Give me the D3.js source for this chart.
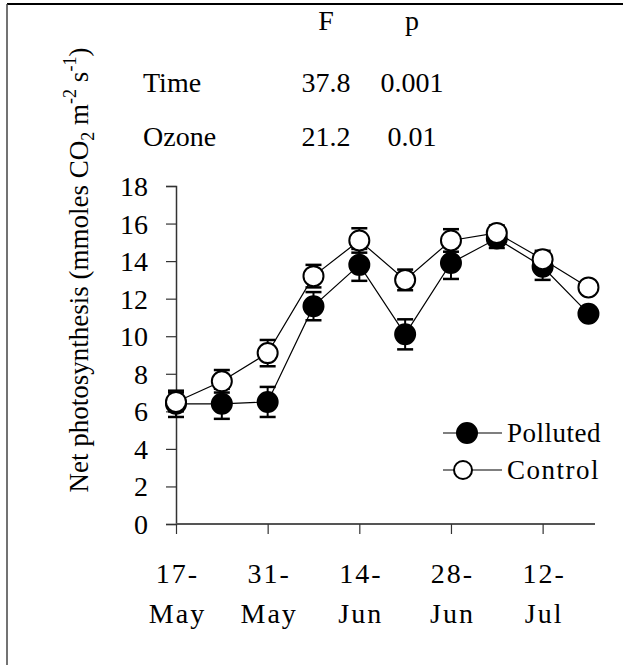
<!DOCTYPE html>
<html>
<head>
<meta charset="utf-8">
<script src="https://cdn.jsdelivr.net/npm/d3@7/dist/d3.min.js"></script>
<style>
  body { margin: 0; background: #fff; }
  svg { display: block; }
  svg text { font-family: "Liberation Serif", "Times New Roman", Times, Tinos, "DejaVu Serif", "Noto Serif", serif !important; fill: #000; }
</style>
</head>
<body>
<div id="chart"></div>
<script>
// sampling dates (weekly)
const dates = ["2000-05-17", "2000-05-24", "2000-05-31", "2000-06-07", "2000-06-14",
               "2000-06-21", "2000-06-28", "2000-07-05", "2000-07-12", "2000-07-19"]
const polluted = [6.4, 6.4, 6.5, 11.6, 13.8, 10.1, 13.9, 15.2, 13.7, 11.2]
const pollutedErr = [0.7, 0.8, 0.8, 0.75, 0.85, 0.8, 0.85, 0.5, 0.7, 0.3]
const control = [6.5, 7.6, 9.1, 13.2, 15.1, 13.0, 15.1, 15.5, 14.1, 12.6]
const controlErr = [0.5, 0.6, 0.7, 0.6, 0.65, 0.55, 0.6, 0.4, 0.45, 0.2]

const xTickDates = ["2000-05-17", "2000-05-31", "2000-06-14", "2000-06-28", "2000-07-12"]
const xTickLabels = [["17-", "May"], ["31-", "May"], ["14-", "Jun"], ["28-", "Jun"], ["12-", "Jul"]]
const yTicks = [0, 2, 4, 6, 8, 10, 12, 14, 16, 18]

const statHeader = ["F", "p"]
const statRows = ["Time", "Ozone"]
const statF = ["37.8", "21.2"]
const statP = ["0.001", "0.01"]

const seriesNames = ["Polluted", "Control"]

const parse = d3.utcParse("%Y-%m-%d")
const width = 623, height = 665
const serif = '"Liberation Serif", "Times New Roman", Times, Tinos, "DejaVu Serif", serif'

const svg = d3.select("#chart").append("svg")
  .attr("width", width)
  .attr("height", height)
  .attr("font-family", serif)

// frame (top + left edges as in the scan)
svg.append("line").attr("x1", 7).attr("x2", width).attr("y1", 4).attr("y2", 4)
  .attr("stroke", "#000").attr("stroke-width", 2)
svg.append("line").attr("x1", 7).attr("x2", 7).attr("y1", 4).attr("y2", height)
  .attr("stroke", "#444").attr("stroke-width", 1.5)

const x = d3.scaleUtc()
  .domain([parse("2000-05-17"), parse("2000-07-20")])
  .range([176, 595])
const y = d3.scaleLinear()
  .domain([0, 18])
  .range([524, 186])

// stats table
const fCol = 326, pCol = 412
svg.selectAll(".hdr")
  .data(statHeader)
  .join("text")
  .attr("class", "hdr")
  .attr("x", (d, i) => i === 0 ? fCol : pCol)
  .attr("y", 30)
  .attr("text-anchor", "middle")
  .style("font-size", "28px")
  .text((d) => d)
statRows.forEach((r, i) => {
  const yy = 92 + i * 54
  svg.append("text").attr("x", 143).attr("y", yy).style("font-size", "28px").text(r)
  svg.append("text").attr("x", fCol).attr("y", yy).attr("text-anchor", "middle").style("font-size", "28px").text(statF[i])
  svg.append("text").attr("x", pCol).attr("y", yy).attr("text-anchor", "middle").style("font-size", "28px").text(statP[i])
})

// y axis
const yAxis = svg.append("g")
  .attr("transform", "translate(176,0)")
  .call(d3.axisLeft(y).tickValues(yTicks).tickSize(10).tickPadding(18))
yAxis.attr("font-family", serif)
yAxis.select(".domain").attr("stroke", "#333").attr("stroke-width", 1.5)
yAxis.selectAll(".tick line").attr("stroke", "#333").attr("stroke-width", 1.2)
yAxis.selectAll(".tick text")
  .style("font-size", "28px")
  .attr("fill", "#000")
  .attr("dy", "0.34em")

// x axis
const xAxis = svg.append("g")
  .attr("transform", `translate(0,${y(0)})`)
  .call(d3.axisBottom(x).tickValues(xTickDates.map(parse)).tickSize(10).tickFormat(""))
xAxis.attr("font-family", serif)
xAxis.select(".domain").attr("stroke", "#555").attr("stroke-width", 2)
  .attr("d", `M${x.range()[0]},0H${x.range()[1]}`)
xAxis.selectAll(".tick line").attr("stroke", "#333").attr("stroke-width", 1.2)
xAxis.selectAll(".tick").each(function(d, i) {
  const t = d3.select(this).append("text")
    .attr("text-anchor", "middle")
    .style("font-size", "28px")
    .style("letter-spacing", "2px")
    .attr("fill", "#000")
  t.selectAll("tspan")
    .data(xTickLabels[i])
    .join("tspan")
    .attr("x", 1)
    .attr("y", (d, di) => 59 + di * 40)
    .text((d) => d)
})

// y label
const yLab = svg.append("text")
  .attr("transform", "translate(88,270) rotate(-90)")
  .attr("text-anchor", "middle")
  .style("font-size", "27px")
yLab.append("tspan").text("Net photosynthesis (mmoles CO")
yLab.append("tspan").attr("dy", 6).style("font-size", "18px").text("2")
yLab.append("tspan").attr("dy", -6).text(" m")
yLab.append("tspan").attr("dy", -12).style("font-size", "18px").text("-2")
yLab.append("tspan").attr("dy", 12).text(" s")
yLab.append("tspan").attr("dy", -12).style("font-size", "18px").text("-1")
yLab.append("tspan").attr("dy", 12).text(")")

// series
const series = [
  {name: seriesNames[0], values: polluted, err: pollutedErr, fill: "#000"},
  {name: seriesNames[1], values: control, err: controlErr, fill: "#fff"}
]
const line = d3.line().x((d) => x(d.date)).y((d) => y(d.v))
const r = 10, cap = 8

series.forEach((s) => {
  const pts = s.values.map((v, i) => ({date: parse(dates[i]), v: v, e: s.err[i]}))
  const g = svg.append("g")
  g.append("path").datum(pts).attr("d", line)
    .attr("fill", "none").attr("stroke", "#000").attr("stroke-width", 1.2)
  const eb = g.selectAll(".eb").data(pts).join("g").attr("class", "eb")
  eb.append("line")
    .attr("x1", (d) => x(d.date)).attr("x2", (d) => x(d.date))
    .attr("y1", (d) => y(d.v - d.e)).attr("y2", (d) => y(d.v + d.e))
    .attr("stroke", "#000").attr("stroke-width", 2)
  ;[-1, 1].forEach((sgn) => {
    eb.append("line")
      .attr("x1", (d) => x(d.date) - cap).attr("x2", (d) => x(d.date) + cap)
      .attr("y1", (d) => y(d.v + sgn * d.e)).attr("y2", (d) => y(d.v + sgn * d.e))
      .attr("stroke", "#000").attr("stroke-width", 2.5)
  })
  g.selectAll("circle").data(pts).join("circle")
    .attr("cx", (d) => x(d.date)).attr("cy", (d) => y(d.v)).attr("r", r)
    .attr("fill", s.fill).attr("stroke", "#000").attr("stroke-width", 2)
})

// legend
const legend = svg.append("g")
series.forEach((s, i) => {
  const ly = 433 + i * 37
  legend.append("line").attr("x1", 443).attr("x2", 502).attr("y1", ly).attr("y2", ly)
    .attr("stroke", "#000").attr("stroke-width", 1.2)
  legend.append("circle").attr("cx", i === 0 ? 467 : 463).attr("cy", ly).attr("r", i === 0 ? 10 : 9)
    .attr("fill", s.fill).attr("stroke", "#000").attr("stroke-width", 2)
  legend.append("text").attr("x", 507).attr("y", ly + 9)
    .style("font-size", "27px").style("letter-spacing", i === 0 ? "0.5px" : "1.5px")
    .text(s.name)
})
</script>
</body>
</html>
